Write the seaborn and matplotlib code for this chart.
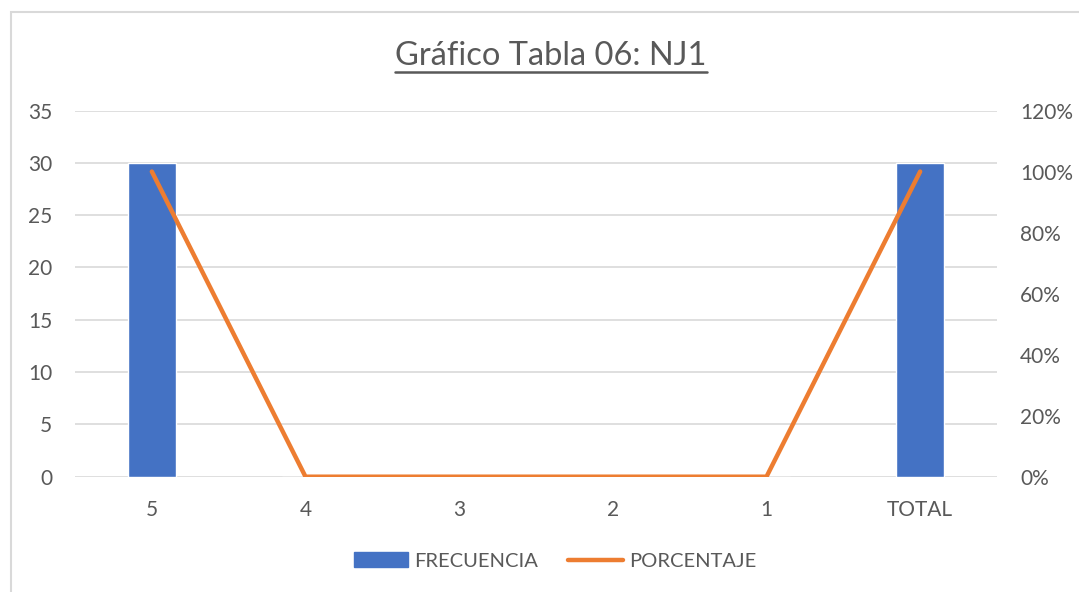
import numpy as np
import pandas as pd
import matplotlib
matplotlib.use("Agg")
import matplotlib.pyplot as plt
import seaborn as sns
from matplotlib.lines import Line2D
from matplotlib.patches import Patch, Rectangle
from matplotlib.ticker import PercentFormatter

# data
categorias = ["5", "4", "3", "2", "1", "TOTAL"]
frecuencia = [30, 0, 0, 0, 0, 30]
porcentaje = [1.00, 0.0, 0.0, 0.0, 0.0, 1.00]

df = pd.DataFrame({"cat": categorias, "freq": frecuencia, "pct": porcentaje})

sns.set_theme(style="white")
plt.rcParams["font.family"] = ["Lato", "DejaVu Sans"]

azul = "#4472C4"
naranja = "#ED7D31"
gris_txt = "#595959"
gris_grid = "#D9D9D9"

fig = plt.figure(figsize=(10.79, 5.92), dpi=100)
ax = fig.add_axes([75 / 1079, 1 - 476.7 / 592, (997 - 75) / 1079, (476.7 - 110.5) / 592])

# bars on the left axis
sns.barplot(data=df, x="cat", y="freq", color=azul, width=0.31, saturation=1, ax=ax)
ax.set_ylim(0, 35)
ax.set_yticks(range(0, 36, 5))
ax.set_xlim(-0.5, len(categorias) - 0.5)
ax.yaxis.grid(True, color=gris_grid, linewidth=1.2)
ax.set_axisbelow(True)
ax.set_xlabel("")
ax.set_ylabel("")
for s in ax.spines.values():
    s.set_visible(False)
ax.tick_params(axis="both", length=0, labelsize=15, colors=gris_txt)
ax.tick_params(axis="x", pad=17)
ax.tick_params(axis="y", pad=16.5)

# percentage line on the right axis
ax2 = ax.twinx()
sns.lineplot(x=np.arange(len(categorias)), y=df["pct"], color=naranja, linewidth=3.2,
             ax=ax2, sort=False, solid_capstyle="round")
ax2.set_ylim(0, 1.2)
ax2.set_yticks(np.arange(0, 1.21, 0.2))
ax2.yaxis.set_major_formatter(PercentFormatter(1.0, decimals=0))
ax2.set_ylabel("")
for s in ax2.spines.values():
    s.set_visible(False)
ax2.tick_params(axis="y", length=0, labelsize=15, colors=gris_txt, pad=16.5)
ax2.grid(False)

# title with underline
titulo = fig.text(551 / 1079, 1 - 56 / 592, "Gráfico Tabla 06: NJ1", ha="center", va="center",
                  fontsize=23.5, color=gris_txt)

# legend
handles = [Patch(facecolor=azul, edgecolor=azul),
           Line2D([0], [0], color=naranja, linewidth=3.2, solid_capstyle="round")]
fig.legend(handles, ["FRECUENCIA", "PORCENTAJE"], loc="center", bbox_to_anchor=(555 / 1079, 1 - 561 / 592),
           ncol=2, frameon=False, fontsize=14.5, labelcolor=gris_txt, handlelength=2.7,
           handleheight=0.7, handletextpad=0.3, columnspacing=1.5)

# chart frame
fig.add_artist(Rectangle((11 / 1079, -0.1), 1.2, 1 - 12 / 592 + 0.1, transform=fig.transFigure,
                         fill=False, edgecolor="#D9D9D9", linewidth=1.5))

fig.canvas.draw()
bb = titulo.get_window_extent().transformed(fig.transFigure.inverted())
fig.add_artist(Line2D([bb.x0, bb.x1], [bb.y0 - 1 / 592, bb.y0 - 1 / 592], transform=fig.transFigure,
                      color=gris_txt, linewidth=1.8))

fig.savefig("out.png", dpi=100)
